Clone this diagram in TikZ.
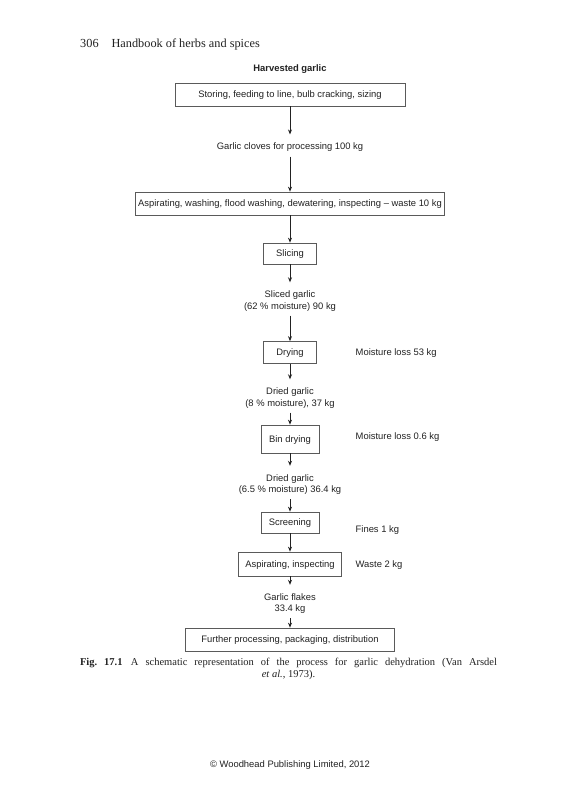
\documentclass[tikz,border=0pt]{standalone}
\usepackage{fontspec}
\setmainfont{Liberation Serif}
\setsansfont{Liberation Sans}
\usepackage{tikz}
\usepackage{xcolor}
\usetikzlibrary{arrows.meta,positioning}
\definecolor{ink}{HTML}{222222}
\definecolor{boxline}{HTML}{5A5A5A}
\tikzset{
  stepbox/.style={draw=boxline,line width=0.7pt,text=ink,
                  minimum height=23pt,inner sep=0pt,
                  text height=8pt,text depth=1.2pt,
                  font=\sffamily\fontsize{9.4}{11.2}\selectfont},
  flowtext/.style={text=ink,inner sep=1.5pt,align=center,
                   font=\sffamily\fontsize{9.4}{11.2}\selectfont},
  sidetext/.style={flowtext,anchor=west},
  flowarr/.style={-{Stealth[length=5pt,width=4pt]},line width=0.8pt,draw=ink},
  totext/.style={flowarr,shorten >=7pt},
  fromtext/.style={flowarr,shorten <=3pt}
}

\begin{document}
\begin{tikzpicture}[x=1pt,y=-1pt]
  \useasboundingbox[fill=white] (0,0) rectangle (573,800);
  \node[anchor=west,text=ink,inner sep=0pt,font=\fontsize{12.3}{14}\selectfont]
    (head) at (80,44) {306\hspace{1.05em}Handbook of herbs and spices};
  \node[flowtext,font=\sffamily\bfseries\fontsize{9.4}{11.2}\selectfont]
    (harvest) at (290,69.5) {Harvested garlic};

  \node[stepbox,minimum width=230pt] (store) at (290,94.5)
    {Storing, feeding to line, bulb cracking, sizing};
  \node[flowtext] (cloves) at (290,147.5) {Garlic cloves for processing 100 kg};
  \node[stepbox,minimum width=309pt] (wash) at (290,203.5)
    {Aspirating, washing, flood washing, dewatering, inspecting -- waste 10 kg};
  \node[stepbox,minimum width=53pt,minimum height=21pt] (slice) at (290,253.5) {Slicing};
  \node[flowtext] (sliced) at (290,301) {Sliced garlic\\(62 \% moisture) 90 kg};
  \node[stepbox,minimum width=53pt,minimum height=22pt] (dry) at (290,352.5) {Drying};
  \node[sidetext] (loss1) at (354,353.5) {Moisture loss 53 kg};
  \node[flowtext] (dried1) at (290,398) {Dried garlic\\(8 \% moisture), 37 kg};
  \node[stepbox,minimum width=58pt,minimum height=28pt] (bin) at (290,439) {Bin drying};
  \node[sidetext] (loss2) at (354,437.5) {Moisture loss 0.6 kg};
  \node[flowtext] (dried2) at (290,484.5) {Dried garlic\\(6.5 \% moisture) 36.4 kg};
  \node[stepbox,minimum width=58pt,minimum height=21pt] (screen) at (290,522.5) {Screening};
  \node[sidetext] (fines) at (354,530.5) {Fines 1 kg};
  \node[stepbox,minimum width=103pt,minimum height=24pt] (aspins) at (290,564)
    {Aspirating, inspecting};
  \node[sidetext] (waste) at (354,565.5) {Waste 2 kg};
  \node[flowtext] (flakes) at (290,603.5) {Garlic flakes\\33.4 kg};
  \node[stepbox,minimum width=209pt] (further) at (290,639.5)
    {Further processing, packaging, distribution};

  \draw[totext] (store) -- (cloves);
  \draw[fromtext] (cloves) -- (wash);
  \draw[flowarr] (wash) -- (slice);
  \draw[totext] (slice) -- (sliced);
  \draw[fromtext] (sliced) -- (dry);
  \draw[totext] (dry) -- (dried1);
  \draw[fromtext] (dried1) -- (bin);
  \draw[totext] (bin) -- (dried2);
  \draw[fromtext] (dried2) -- (screen);
  \draw[flowarr] (screen) -- (aspins);
  \draw[totext] (aspins) -- (flakes);
  \draw[fromtext] (flakes) -- (further);

  \node[text=ink,inner sep=0pt,align=center,font=\fontsize{10.5}{12}\selectfont]
    (caption) at (288.5,668.5)
    {\makebox[417pt][s]{\textbf{Fig.~17.1}\hspace{0.8em}A schematic representation of the process for garlic dehydration (Van Arsdel}\\
     \textit{et al.}, 1973).};
  \node[flowtext] (copy) at (290,765.5) {\textcopyright{} Woodhead Publishing Limited, 2012};
\end{tikzpicture}
\end{document}
